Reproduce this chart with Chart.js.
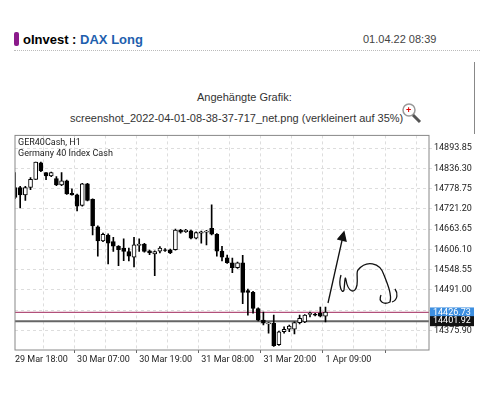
<!DOCTYPE html>
<html><head><meta charset="utf-8">
<script src="https://cdn.jsdelivr.net/npm/chart.js@4"></script>
<style>
body{margin:0;width:480px;height:402px;background:#fff;font-family:Arial,"Liberation Sans",sans-serif;position:relative;overflow:hidden}
.hdr{position:absolute;left:14px;top:32px;font-size:13px;font-weight:bold}
.bar{display:inline-block;width:5px;height:14px;background:#8b1a8b;border-radius:2px;vertical-align:-2px;margin-right:4px}
.date{position:absolute;left:363px;top:33px;font-size:11px;color:#444}
.sep{position:absolute;left:14px;top:50px;width:466px;border-top:1px dotted #bbb}
.t1{position:absolute;left:197px;top:91px;font-size:11px;color:#333}
.t2{position:absolute;left:70px;top:112px;font-size:11px;color:#333}
#wrap{position:absolute;left:12px;top:128px;width:462px;height:242px}
svg{position:absolute;left:0;top:0}
</style></head><body>
<div class="hdr"><span class="bar"></span>oInvest : <span style="color:#1e5fae">DAX Long</span></div>
<div class="date">01.04.22 08:39</div>
<div class="sep"></div>
<div class="t1">Angehängte Grafik:</div>
<div class="t2">screenshot_2022-04-01-08-38-37-717_net.png (verkleinert auf 35%)</div>
<div style="position:absolute;left:474px;top:62px;height:72px;border-left:1px solid #888"></div>
<div id="wrap"><canvas id="c" width="462" height="242"></canvas></div>
<svg width="480" height="402">
<circle cx="409" cy="110" r="6" fill="#fff" stroke="#999" stroke-width="1.5"/>
<text x="406" y="113" font-size="9" fill="#d00" font-weight="bold">+</text>
<line x1="413" y1="115" x2="420" y2="122" stroke="#555" stroke-width="3"/>
<g fill="none" stroke="#111" stroke-width="1.3">
<path d="M328 303 L343 236"/><path d="M338 239 L344 232 L346 241 Z" fill="#111"/>
<path d="M341 275 C338 285,342 295,344 290 C345 280,345 275,346 280 C348 292,355 295,357 285 C358 278,356 272,358 270 C366 260,380 262,384 275 C388 285,392 295,390 302 C384 305,378 302,381 295 M395 289 C398 293,398 300,392 302"/>
</g>
</svg>
<script>
const xLabels={0:"29 Mar 18:00",12:"30 Mar 07:00",24:"30 Mar 19:00",36:"31 Mar 08:00",48:"31 Mar 20:00",60:"1 Apr 09:00"};
const opens=[14782,14782,14761,14782,14805,14852,14824,14815,14807,14789,14801,14765,14761,14731,14792,14748,14670,14630,14647,14628,14615,14610,14600,14584,14617,14621,14602,14593,14601,14605,14605,14605,14661,14656,14659,14638,14652,14655,14666,14649,14601,14582,14568,14554,14568,14489,14484,14438,14405,14394,14396,14335,14372,14379,14379,14398,14400,14421,14422,14424,14416];
const highs=[14824,14785,14785,14810,14854,14854,14824,14826,14813,14824,14803,14778,14763,14794,14794,14750,14673,14652,14650,14640,14617,14636,14610,14640,14636,14623,14604,14602,14614,14608,14607,14664,14663,14663,14661,14656,14658,14660,14733,14651,14615,14590,14581,14570,14589,14493,14487,14440,14428,14398,14419,14374,14386,14391,14400,14419,14421,14428,14424,14442,14442];
const lows=[14750,14724,14745,14776,14805,14827,14804,14813,14787,14787,14762,14760,14715,14729,14744,14647,14587,14628,14565,14600,14560,14574,14573,14556,14600,14598,14591,14531,14596,14600,14594,14604,14652,14654,14636,14636,14624,14619,14647,14587,14573,14566,14540,14552,14452,14419,14425,14403,14391,14368,14330,14333,14368,14372,14366,14394,14398,14414,14417,14414,14400];
const closes=[14754,14761,14782,14805,14854,14829,14815,14824,14789,14801,14764,14761,14729,14792,14745,14673,14630,14649,14624,14615,14605,14600,14587,14619,14621,14600,14596,14600,14610,14603,14596,14661,14655,14661,14638,14654,14656,14658,14649,14601,14584,14568,14554,14568,14484,14484,14438,14405,14396,14397,14332,14372,14379,14388,14398,14410,14419,14424,14419,14416,14428];
const yTicks=[14893.85,14836.30,14778.75,14721.20,14663.65,14606.10,14548.55,14491.00,14433.45,14375.90];
const hiddenTick=14433.45;
const bidLine=14426.73, askLine=14401.92;
const N=81;
const labels=Array.from({length:N},(_,i)=>i);
const bodies=opens.map((o,i)=>[Math.min(o,closes[i]),Math.max(o,closes[i])+ (Math.abs(o-closes[i])<2?1:0)]);
const wicks=lows.map((l,i)=>[l,highs[i]]);
const fills=opens.map((o,i)=>closes[i]>=o?'#fff':'#000');
const extra={id:'extra',
 beforeDatasetsDraw(ch){const {ctx,chartArea:a,scales:{y}}=ch;
  ctx.save();ctx.strokeStyle='#b2507a';ctx.lineWidth=1.3;let p=y.getPixelForValue(bidLine);ctx.beginPath();ctx.moveTo(a.left,p);ctx.lineTo(a.right,p);ctx.stroke();
  ctx.strokeStyle='#666';ctx.lineWidth=2;p=y.getPixelForValue(askLine);ctx.beginPath();ctx.moveTo(a.left,p);ctx.lineTo(a.right,p);ctx.stroke();ctx.restore();},
 afterDraw(ch){const {ctx,chartArea:a,scales:{y}}=ch;ctx.save();
  ctx.font='9px Roboto';ctx.textBaseline='middle';
  [[bidLine,'#3d8fe0'],[askLine,'#111']].forEach(([v,c])=>{const p=y.getPixelForValue(v);ctx.fillStyle=c;ctx.fillRect(a.right+1,p-5,44,10);ctx.fillStyle='#fff';ctx.fillText(v.toFixed(2),a.right+4,p);});
  ctx.fillStyle='#222';ctx.textBaseline='top';ctx.fillText('GER40Cash, H1',a.left+3,a.top+3);ctx.fillText('Germany 40 Index Cash',a.left+3,a.top+14);
  ctx.strokeStyle='#888';ctx.lineWidth=1;ctx.strokeRect(a.left,a.top,a.right-a.left,a.bottom-a.top);ctx.restore();}};
new Chart(document.getElementById('c'),{type:'bar',
 data:{labels,datasets:[
  {data:wicks,backgroundColor:'#000',barThickness:1,grouped:false,order:2},
  {data:bodies,backgroundColor:fills,borderColor:'#000',borderWidth:1,borderSkipped:false,barThickness:4,grouped:false,order:1}]},
 options:{responsive:false,animation:false,events:[],layout:{padding:{top:4,left:3,right:0,bottom:0}},
  plugins:{legend:{display:false},tooltip:{enabled:false}},
  scales:{
   x:{offset:false,grid:{color:c=>c.index%6===0?'#ddd':'transparent',tickColor:c=>c.index%12===0?'#666':'transparent',tickLength:3},border:{display:false,dash:[3,3]},
      ticks:{autoSkip:false,maxRotation:0,align:'start',font:{size:9,family:'Roboto'},color:'#222',padding:1,callback:(v,i)=>xLabels[i]||''},
      afterFit(s){s.height=20;}},
   y:{position:'right',min:14320,max:14930,grid:{color:'#ddd',tickLength:3},border:{display:false,dash:[3,3]},
      afterBuildTicks(s){s.ticks=yTicks.map(v=>({value:v}));},
      ticks:{font:{size:9,family:'Roboto'},color:'#222',padding:2,callback:v=>v===hiddenTick?'':v.toFixed(2)},
      afterFit(s){s.width=45;}}}},
 plugins:[extra]});
</script></body></html>
